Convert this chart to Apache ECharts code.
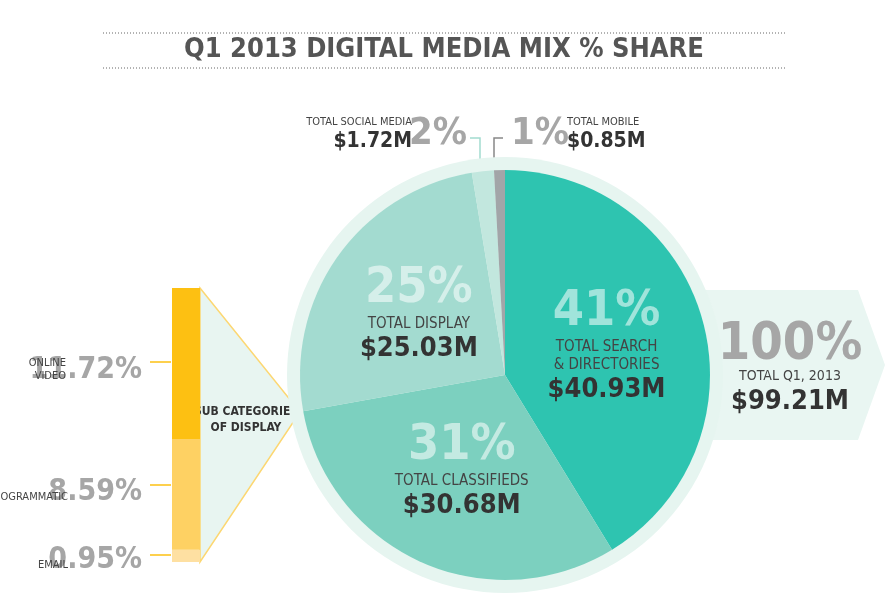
<!DOCTYPE html>
<html><head><meta charset="utf-8">
<script src="https://cdn.jsdelivr.net/npm/echarts@6/dist/echarts.min.js"></script>
<style>html,body{margin:0;background:#fff}#c{width:888px;height:612px}</style>
</head><body><div id="c"></div>
<script>
var F = '"Liberation Sans Narrow","DejaVu Sans Condensed",sans-serif';
var categories = ['TOTAL SEARCH\n& DIRECTORIES', 'TOTAL CLASSIFIEDS', 'TOTAL DISPLAY', 'TOTAL SOCIAL MEDIA', 'TOTAL MOBILE'];
var values = [40.93, 30.68, 25.03, 1.72, 0.85];
var shares = ['41%', '31%', '25%', '2%', '1%'];
var colors = ['#2ec4b0', '#7cd0bf', '#a3dbd0', '#c2e7de', '#a2a5a8'];
var subNames = ['EMAIL', 'PROGRAMMATIC', 'ONLINE\nVIDEO'];
var subValues = [0.95, 8.59, 11.72];
var subColors = ['#fee0a2', '#fed163', '#fdc012'];

var chart = echarts.init(document.getElementById('c'));
var pieData = values.map(function (v, i) {
  return { value: v, name: categories[i], itemStyle: { color: colors[i] },
    label: { show: i < 3 } };
});
var barSeries = subValues.map(function (v, i) {
  return { type: 'bar', stack: 's', data: [v], barWidth: '100%', itemStyle: { color: subColors[i] },
    silent: true, z: 5 };
});
var dotted = { stroke: '#666', lineWidth: 1, lineDash: [1, 2] };
chart.setOption({
  animation: false,
  grid: { left: 172, top: 288, width: 28, height: 274 },
  xAxis: { type: 'category', data: ['display'], show: false },
  yAxis: { type: 'value', min: 0, max: 21.26, show: false },
  series: [
    { type: 'pie', radius: [0, 218], center: [505, 375], silent: true, z: 1,
      data: [{ value: 1, itemStyle: { color: '#e6f5f0' } }], label: { show: false } },
    { type: 'pie', radius: [0, 205], center: [505, 375], startAngle: 90, clockwise: true,
      silent: true, z: 2, data: pieData,
      label: { position: 'inside', fontFamily: F,
        formatter: function (p) { return '{p|' + shares[p.dataIndex] + '}\n{n|' + p.name.replace('\n', '}\n{n|') + '}\n{v|$' + p.value.toFixed(2) + 'M}'; },
        rich: {
          p: { fontSize: 50, fontWeight: 'bold', color: 'rgba(255,255,255,0.55)', fontFamily: F, lineHeight: 52 },
          n: { fontSize: 15, color: '#444', fontFamily: F, lineHeight: 18 },
          v: { fontSize: 27, fontWeight: 'bold', color: '#333', fontFamily: F, lineHeight: 32 }
        } },
      labelLine: { show: false } }
  ].concat(barSeries),
  graphic: [
    { type: 'text', left: 'center', top: 36, style: { text: 'Q1 2013 DIGITAL MEDIA MIX % SHARE', font: 'bold 27px ' + F, fill: '#555' } },
    { type: 'line', shape: { x1: 103, y1: 33, x2: 785, y2: 33 }, style: dotted },
    { type: 'line', shape: { x1: 103, y1: 68, x2: 785, y2: 68 }, style: dotted },
    { type: 'polygon', z: 0, shape: { points: [[700, 290], [858, 290], [885, 365], [858, 440], [700, 440]] }, style: { fill: '#e9f6f2' } },
    { type: 'text', x: 790, y: 345, style: { text: '100%', font: 'bold 52px ' + F, fill: '#a6a6a6', align: 'center', verticalAlign: 'middle' } },
    { type: 'text', x: 790, y: 376, style: { text: 'TOTAL Q1, 2013', font: '14px ' + F, fill: '#444', align: 'center', verticalAlign: 'middle' } },
    { type: 'text', x: 790, y: 402, style: { text: '$99.21M', font: 'bold 27px ' + F, fill: '#333', align: 'center', verticalAlign: 'middle' } },
    { type: 'polygon', z: 0, shape: { points: [[200, 288], [300, 412], [200, 562]] }, style: { fill: '#e8f5f1', stroke: '#fcd772', lineWidth: 1.5 } },
    { type: 'text', x: 246, y: 420, style: { text: 'SUB CATEGORIES\nOF DISPLAY', font: 'bold 12px ' + F, fill: '#333', align: 'center', verticalAlign: 'middle', lineHeight: 16 } },
    { type: 'text', x: 142, y: 370, style: { text: '11.72%', font: 'bold 30px ' + F, fill: '#a6a6a6', align: 'right', verticalAlign: 'middle' } },
    { type: 'text', x: 66, y: 370, style: { text: 'ONLINE\nVIDEO', font: '11px ' + F, fill: '#444', align: 'right', verticalAlign: 'middle', lineHeight: 13 } },
    { type: 'text', x: 142, y: 492, style: { text: '8.59%', font: 'bold 30px ' + F, fill: '#a6a6a6', align: 'right', verticalAlign: 'middle' } },
    { type: 'text', x: 68, y: 497, style: { text: 'PROGRAMMATIC', font: '11px ' + F, fill: '#444', align: 'right', verticalAlign: 'middle' } },
    { type: 'text', x: 142, y: 560, style: { text: '0.95%', font: 'bold 30px ' + F, fill: '#a6a6a6', align: 'right', verticalAlign: 'middle' } },
    { type: 'text', x: 68, y: 565, style: { text: 'EMAIL', font: '11px ' + F, fill: '#444', align: 'right', verticalAlign: 'middle' } },
    { type: 'line', shape: { x1: 150, y1: 362, x2: 171, y2: 362 }, style: { stroke: '#fdc012', lineWidth: 1.5 } },
    { type: 'line', shape: { x1: 150, y1: 485, x2: 171, y2: 485 }, style: { stroke: '#fdc012', lineWidth: 1.5 } },
    { type: 'line', shape: { x1: 150, y1: 555, x2: 171, y2: 555 }, style: { stroke: '#fdc012', lineWidth: 1.5 } },
    { type: 'text', x: 412, y: 122, style: { text: 'TOTAL SOCIAL MEDIA', font: '11px ' + F, fill: '#444', align: 'right', verticalAlign: 'middle' } },
    { type: 'text', x: 412, y: 142, style: { text: '$1.72M', font: 'bold 21px ' + F, fill: '#333', align: 'right', verticalAlign: 'middle' } },
    { type: 'text', x: 438, y: 134, style: { text: '2%', font: 'bold 38px ' + F, fill: '#a6a6a6', align: 'center', verticalAlign: 'middle' } },
    { type: 'text', x: 540, y: 134, style: { text: '1%', font: 'bold 38px ' + F, fill: '#a6a6a6', align: 'center', verticalAlign: 'middle' } },
    { type: 'text', x: 567, y: 122, style: { text: 'TOTAL MOBILE', font: '11px ' + F, fill: '#444', align: 'left', verticalAlign: 'middle' } },
    { type: 'text', x: 567, y: 142, style: { text: '$0.85M', font: 'bold 21px ' + F, fill: '#333', align: 'left', verticalAlign: 'middle' } },
    { type: 'polyline', shape: { points: [[470, 138], [480, 138], [480, 170]] }, style: { stroke: '#a3dbd0', lineWidth: 1.5, fill: null } },
    { type: 'polyline', shape: { points: [[503, 138], [494, 138], [494, 170]] }, style: { stroke: '#888', lineWidth: 1.5, fill: null } }
  ]
});
</script></body></html>
